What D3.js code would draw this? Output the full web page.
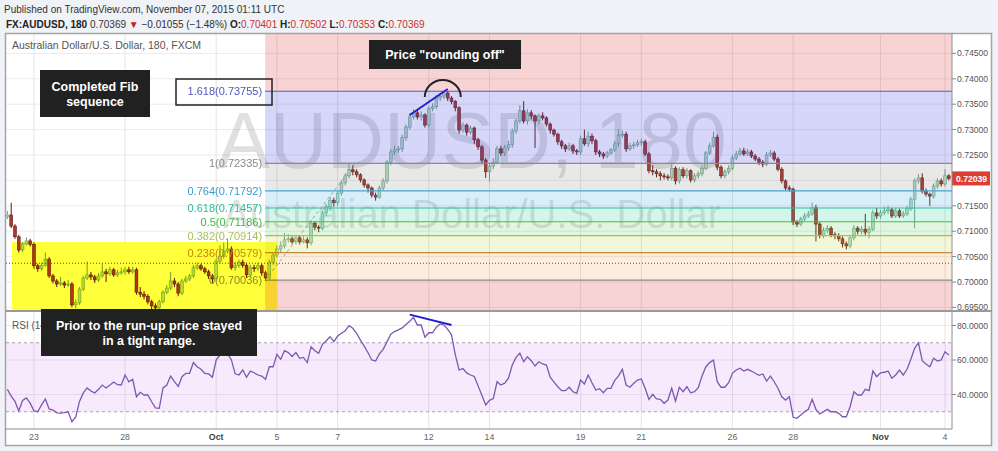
<!DOCTYPE html>
<html><head><meta charset="utf-8">
<script src="https://cdn.jsdelivr.net/npm/d3@7"></script>
<style>
html,body{margin:0;padding:0;background:#eff2f6;}
svg{display:block;font-family:"Liberation Sans",Arial,sans-serif;}
</style></head><body>
<svg id="c" width="998" height="451"></svg>
<script>
// ---------- DATA ----------
const firstOpen = 0.7128;
const closes = [
0.7132,0.7110,0.7089,0.7063,0.7075,0.7081,0.7074,0.7032,0.7026,0.7033,
0.7045,0.7012,0.7002,0.6996,0.6998,0.6994,0.6996,0.6955,0.6959,0.6986,
0.7008,0.7014,0.7010,0.7004,0.7012,0.7020,0.7016,0.7024,0.7014,0.7018,
0.7020,0.7024,0.7020,0.7024,0.6980,0.6976,0.6972,0.6961,0.6953,0.6949,
0.6961,0.6980,0.6988,0.7002,0.6996,0.6978,0.7002,0.7006,0.7012,0.7028,
0.7032,0.7026,0.7020,0.7012,0.7006,0.7041,0.7051,0.7061,0.7065,0.7028,
0.7033,0.7039,0.7033,0.7014,0.7028,0.7027,0.7032,0.7018,0.7008,0.7039,
0.7053,0.7065,0.7071,0.7083,0.7085,0.7079,0.7087,0.7079,0.7083,0.7077,
0.7116,0.7108,0.7106,0.7136,0.7148,0.7161,0.7156,0.7175,0.7195,0.7209,
0.7221,0.7217,0.7211,0.7201,0.7191,0.7185,0.7171,0.7167,0.7185,0.7199,
0.7236,0.7256,0.7260,0.7262,0.7284,0.7305,0.7325,0.7333,0.7325,0.7329,
0.7309,0.7341,0.7345,0.7362,0.7366,0.7372,0.7362,0.7355,0.7343,0.7299,
0.7309,0.7295,0.7303,0.7280,0.7266,0.7240,0.7217,0.7228,0.7236,0.7262,
0.7254,0.7264,0.7270,0.7297,0.7317,0.7337,0.7317,0.7333,0.7327,0.7317,
0.7327,0.7323,0.7311,0.7299,0.7291,0.7276,0.7268,0.7262,0.7268,0.7258,
0.7256,0.7282,0.7272,0.7287,0.7278,0.7256,0.7252,0.7248,0.7254,0.7260,
0.7272,0.7289,0.7291,0.7262,0.7268,0.7270,0.7274,0.7276,0.7252,0.7219,
0.7217,0.7213,0.7209,0.7207,0.7205,0.7224,0.7199,0.7221,0.7209,0.7219,
0.7201,0.7209,0.7213,0.7224,0.7254,0.7268,0.7285,0.7226,0.7209,0.7217,
0.7224,0.7244,0.7252,0.7258,0.7252,0.7256,0.7248,0.7242,0.7236,0.7232,
0.7250,0.7254,0.7242,0.7222,0.7199,0.7185,0.7183,0.7118,0.7114,0.7124,
0.7130,0.7134,0.7146,0.7114,0.7091,0.7102,0.7106,0.7093,0.7091,0.7085,
0.7075,0.7071,0.7087,0.7106,0.7100,0.7104,0.7098,0.7104,0.7136,0.7130,
0.7136,0.7140,0.7142,0.7130,0.7140,0.7130,0.7134,0.7144,0.7163,0.7199,
0.7205,0.7179,0.7173,0.7169,0.7189,0.7199,0.7193,0.7209,0.7204];
const highs = [
0.7140,0.7156,0.7114,0.7093,0.7079,0.7088,0.7085,0.7078,0.7036,0.7038,
0.7058,0.7049,0.7016,0.7006,0.7010,0.7002,0.7004,0.7000,0.6966,0.6990,
0.7012,0.7040,0.7020,0.7014,0.7018,0.7036,0.7026,0.7030,0.7028,0.7024,
0.7028,0.7030,0.7030,0.7030,0.7028,0.6990,0.6982,0.6976,0.6965,0.6958,
0.6965,0.6984,0.6994,0.7020,0.7008,0.7000,0.7006,0.7012,0.7016,0.7034,
0.7038,0.7036,0.7030,0.7024,0.7016,0.7046,0.7072,0.7078,0.7086,0.7070,
0.7040,0.7044,0.7044,0.7038,0.7034,0.7034,0.7038,0.7036,0.7022,0.7044,
0.7058,0.7072,0.7080,0.7096,0.7094,0.7090,0.7092,0.7092,0.7090,0.7088,
0.7122,0.7120,0.7112,0.7140,0.7154,0.7168,0.7166,0.7180,0.7200,0.7214,
0.7234,0.7230,0.7222,0.7214,0.7204,0.7194,0.7188,0.7176,0.7190,0.7204,
0.7240,0.7262,0.7268,0.7268,0.7290,0.7310,0.7332,0.7340,0.7340,0.7336,
0.7332,0.7346,0.7352,0.7368,0.7372,0.7376,0.7376,0.7366,0.7358,0.7346,
0.7314,0.7312,0.7308,0.7306,0.7284,0.7270,0.7244,0.7234,0.7244,0.7268,
0.7268,0.7270,0.7278,0.7302,0.7322,0.7348,0.7356,0.7340,0.7338,0.7330,
0.7332,0.7334,0.7326,0.7314,0.7302,0.7294,0.7280,0.7272,0.7274,0.7272,
0.7262,0.7288,0.7300,0.7296,0.7292,0.7282,0.7260,0.7256,0.7258,0.7264,
0.7278,0.7300,0.7298,0.7296,0.7274,0.7276,0.7280,0.7282,0.7280,0.7256,
0.7230,0.7222,0.7218,0.7214,0.7212,0.7232,0.7228,0.7226,0.7226,0.7224,
0.7222,0.7214,0.7218,0.7230,0.7258,0.7274,0.7296,0.7290,0.7230,0.7222,
0.7230,0.7250,0.7258,0.7264,0.7264,0.7262,0.7260,0.7252,0.7246,0.7240,
0.7256,0.7260,0.7258,0.7246,0.7226,0.7202,0.7190,0.7186,0.7122,0.7128,
0.7136,0.7140,0.7156,0.7152,0.7118,0.7108,0.7112,0.7110,0.7098,0.7096,
0.7090,0.7080,0.7092,0.7112,0.7110,0.7110,0.7134,0.7110,0.7142,0.7146,
0.7142,0.7148,0.7150,0.7146,0.7146,0.7144,0.7140,0.7150,0.7168,0.7204,
0.7212,0.7214,0.7184,0.7176,0.7194,0.7204,0.7204,0.7222,0.7212];
const lows = [
0.7124,0.7106,0.7085,0.7058,0.7059,0.7072,0.7070,0.7026,0.7020,0.7022,
0.7030,0.7008,0.6997,0.6990,0.6992,0.6988,0.6990,0.6950,0.6948,0.6955,
0.6982,0.7004,0.7004,0.6998,0.7000,0.7008,0.7000,0.7012,0.7010,0.7010,
0.7014,0.7014,0.7016,0.7016,0.6975,0.6970,0.6966,0.6956,0.6946,0.6940,
0.6944,0.6958,0.6976,0.6984,0.6990,0.6972,0.6974,0.6998,0.7002,0.7008,
0.7024,0.7022,0.7016,0.7006,0.6998,0.7002,0.7036,0.7046,0.7056,0.7024,
0.7022,0.7028,0.7028,0.7008,0.7010,0.7020,0.7022,0.7012,0.7002,0.7004,
0.7034,0.7048,0.7058,0.7066,0.7078,0.7074,0.7074,0.7074,0.7076,0.7066,
0.7072,0.7102,0.7098,0.7102,0.7130,0.7140,0.7148,0.7150,0.7170,0.7190,
0.7204,0.7210,0.7206,0.7196,0.7186,0.7176,0.7166,0.7160,0.7164,0.7180,
0.7194,0.7230,0.7250,0.7254,0.7256,0.7278,0.7300,0.7320,0.7320,0.7318,
0.7304,0.7304,0.7336,0.7340,0.7356,0.7360,0.7356,0.7350,0.7336,0.7292,
0.7294,0.7288,0.7290,0.7272,0.7260,0.7234,0.7205,0.7198,0.7222,0.7232,
0.7248,0.7248,0.7258,0.7264,0.7292,0.7312,0.7312,0.7310,0.7320,0.7264,
0.7310,0.7318,0.7306,0.7292,0.7286,0.7270,0.7262,0.7256,0.7258,0.7252,
0.7250,0.7250,0.7268,0.7266,0.7272,0.7250,0.7246,0.7242,0.7244,0.7250,
0.7256,0.7266,0.7284,0.7256,0.7258,0.7262,0.7266,0.7268,0.7248,0.7214,
0.7210,0.7206,0.7200,0.7202,0.7200,0.7200,0.7192,0.7194,0.7204,0.7204,
0.7196,0.7196,0.7204,0.7208,0.7220,0.7250,0.7264,0.7220,0.7204,0.7204,
0.7212,0.7220,0.7240,0.7248,0.7248,0.7248,0.7244,0.7238,0.7230,0.7226,
0.7228,0.7246,0.7238,0.7218,0.7194,0.7180,0.7178,0.7112,0.7108,0.7110,
0.7120,0.7126,0.7130,0.7080,0.7086,0.7086,0.7096,0.7088,0.7084,0.7080,
0.7068,0.7064,0.7066,0.7082,0.7094,0.7094,0.7092,0.7086,0.7100,0.7124,
0.7124,0.7132,0.7134,0.7126,0.7126,0.7126,0.7126,0.7130,0.7140,0.7106,
0.7194,0.7174,0.7168,0.7150,0.7164,0.7184,0.7188,0.7188,0.7200];
const rsi = [
43,39,36,30.5,36.5,38,35,30.5,30,34,
37.4,31.6,31,29.4,29.2,29.5,30,24.2,27,36,
40.9,43.8,42,40.9,43,45.5,43.8,45.5,47.2,45.7,
45.5,51.3,47.4,48.8,38.7,41.3,39.7,39.7,35.8,32.2,
32,43.8,45.5,50.7,47.4,44.7,50.3,52.3,52.3,58.5,
56.1,54.6,52.3,51.9,50,60,62.9,65.8,63.5,60.2,
52,51.3,54.2,50,53.6,52.6,51.3,50.7,48.8,56.1,
56.1,63.3,60.4,65.4,64.3,62,64.3,61,61.5,58.5,
67.7,65.4,63.9,69.1,71.2,73.5,70.6,73.9,75.5,77,
79.9,78.4,75.5,71.5,68,64.2,60,59.4,63.5,66.2,
70.5,75,76.5,77.5,78.6,80.6,82.5,84.7,80.3,80.3,
73.2,75.8,75.8,79,80.9,80.3,77.8,74.5,63,54.2,
55,52.5,51.3,50.5,45,39.5,33.9,36.6,37.6,47.4,
45.5,46.6,49.5,57.1,61.5,64,59,61.9,59.6,56.5,
59,57.7,57.1,50,47.2,44.5,42.2,42.2,44.2,41.6,
40.7,48.4,46.1,51.3,46.8,42.6,43.4,41,43.6,43.6,
48.2,50.8,54.6,45.5,44.2,46.5,48.4,49,43.6,37.2,
40.1,37.4,37.2,34.9,36.8,43.6,36.2,44.2,41.6,44.5,
41,41.6,44,50.7,56.1,58.5,60,47.4,44.2,44.2,
46.8,52.3,54.2,55.2,53.6,54.6,53.6,52.3,51.1,51.9,
47.8,50.7,47.4,43.6,38.7,36.8,38.7,26.8,26.2,28.1,
30,31.4,37.2,31.4,28.7,30,31.4,30,30,29.1,
27.1,27.1,32.9,41.6,39.7,39.7,43,42.2,53.6,50.3,
52.6,52.9,53.6,49.4,51.3,54.2,51.3,54.6,60.4,66.8,
70,59.6,57.7,56.1,61,59.4,60,64.8,62.9];
const tickBars   = [8,32,56,72,88,112,128,152,168,192,208,231,248];
const tickLabels = ["23","28","Oct","5","7","12","14","19","21","26","28","Nov","4"];
const boldTicks  = ["Oct","Nov"];
const priceTicks = [0.695,0.700,0.705,0.710,0.715,0.720,0.725,0.730,0.735,0.740,0.745];
const rsiTicks   = [40,60,80];
const rsiBand    = [30,70];
const fibLevels  = [1.618,1,0.764,0.618,0.5,0.382,0.236,0];
const fibPrices  = [0.73755,0.72335,0.71792,0.71457,0.71186,0.70914,0.70579,0.70036];
const fibAnchorBars = [68.9,92.65];
const lastPrice = 0.72039;
const refPrice  = 0.70369;
const highlightBars = [2.2,72];
const highlightTop = 0.70787;
const priceTrend = {bars:[107,117], prices:[0.73287,0.73799]};
const rsiTrend   = {bars:[107,118], values:[86.3,80.3]};
const arcCenter  = {bar:115.7, price:0.73642};

// ---------- STYLE / LAYOUT ----------
const plotL=6, plotR=952, priceTop=34, priceBot=310, rsiTop=312, rsiBot=429;
const fibLine = ["#5a56c8","#8a8a8a","#45a6d6","#2fc0a0","#42bf42","#a2c248","#c4883a","#8a8a8a"];
const fibText = ["#5555c0","#8a8a8a","#3b9cd0","#2db896","#3cba3c","#a8c255","#c8862a","#8a8a8a"];
const fibFill = ["rgba(70,70,225,0.22)","rgba(120,120,120,0.17)","rgba(60,170,225,0.2)","rgba(40,205,150,0.2)","rgba(80,200,60,0.17)","rgba(175,205,40,0.17)","rgba(240,150,60,0.17)"];
const pinkFill = "rgba(225,70,70,0.24)";
const upBody="#b6dcc5", upLine="#6f9f83", dnBody="#b3362c", dnLine="#5b1a13";

const svg = d3.select("#c");
const defs = svg.append("defs");
defs.append("clipPath").attr("id","cp").append("rect").attr("x",plotL).attr("y",priceTop).attr("width",plotR-plotL).attr("height",priceBot-priceTop);
defs.append("clipPath").attr("id","cr").append("rect").attr("x",plotL).attr("y",rsiTop).attr("width",plotR-plotL).attr("height",rsiBot-rsiTop);
defs.append("clipPath").attr("id","ca").append("rect").attr("x",plotR).attr("y",priceTop).attr("width",45).attr("height",priceBot-priceTop);

const x = d3.scaleLinear().domain([0,250]).range([3.6,952.6]);
const y = d3.scaleLinear().domain([0.695,0.745]).range([307.4,53.4]);
const yr = d3.scaleLinear().domain([40,80]).range([394.5,325.5]);

// header
svg.append("text").attr("x",4).attr("y",13).attr("font-size",10).attr("fill","#333")
  .text("Published on TradingView.com, November 07, 2015 01:11 UTC");
const h2 = svg.append("text").attr("x",6).attr("y",28).attr("font-size",10).attr("fill","#333");
const parts = [["FX:AUDUSD, 180 ","b","#222"],["0.70369 ","n","#333"],["\u25BC","n","#cc1f1f"],[" \u22120.01055 (\u22121.48%) ","n","#333"],
 ["O:","b","#222"],["0.70401 ","n","#c9302c"],["H:","b","#222"],["0.70502 ","n","#c9302c"],["L:","b","#222"],["0.70353 ","n","#c9302c"],["C:","b","#222"],["0.70369","n","#c9302c"]];
parts.forEach(p=>h2.append("tspan").attr("font-weight",p[1]==="b"?"bold":"normal").attr("fill",p[2]).text(p[0]));

// frame
svg.append("rect").attr("x",5).attr("y",33).attr("width",987).attr("height",413).attr("fill","#fff");

// grids
const grid = svg.append("g");
grid.selectAll("line.ph").data(priceTicks).join("line").attr("x1",plotL).attr("x2",plotR)
  .attr("y1",d=>y(d)).attr("y2",d=>y(d)).attr("stroke","#ebebeb").attr("clip-path","url(#cp)");
grid.selectAll("line.rh").data(rsiTicks).join("line").attr("x1",plotL).attr("x2",plotR)
  .attr("y1",d=>yr(d)).attr("y2",d=>yr(d)).attr("stroke","#ebebeb");
grid.selectAll("line.v").data(tickBars).join("line").attr("x1",d=>x(d)).attr("x2",d=>x(d))
  .attr("y1",priceTop).attr("y2",rsiBot).attr("stroke","#e4e4e4");

// price pane
const pp = svg.append("g").attr("clip-path","url(#cp)");
const cx = (plotL+plotR)/2 - 7;
pp.append("text").attr("x",cx).attr("y",168).attr("text-anchor","middle").attr("font-size",79)
  .attr("fill","rgba(60,60,70,0.16)").text("AUDUSD, 180");
pp.append("text").attr("x",cx).attr("y",228).attr("text-anchor","middle").attr("font-size",40)
  .attr("fill","rgba(60,60,70,0.16)").text("Australian Dollar/U.S. Dollar");

const candles = closes.map((c,i)=>({bar:i+1, o: i===0?firstOpen:closes[i-1], c, h:highs[i], l:lows[i]}));
const cg = pp.append("g");
cg.selectAll("line").data(candles).join("line")
  .attr("x1",d=>x(d.bar)).attr("x2",d=>x(d.bar)).attr("y1",d=>y(d.h)).attr("y2",d=>y(d.l))
  .attr("stroke",d=>d.c>=d.o?upLine:dnLine).attr("stroke-width",1);
cg.selectAll("rect").data(candles).join("rect")
  .attr("x",d=>x(d.bar)-1.4).attr("width",2.8)
  .attr("y",d=>y(Math.max(d.o,d.c))).attr("height",d=>Math.max(1,Math.abs(y(d.o)-y(d.c))))
  .attr("fill",d=>d.c>=d.o?upBody:dnBody).attr("stroke",d=>d.c>=d.o?upLine:dnLine).attr("stroke-width",0.6);

// fib
const fx0 = x(fibAnchorBars[0]);
const fg = pp.append("g");
fg.append("rect").attr("x",fx0).attr("width",plotR-fx0).attr("y",priceTop).attr("height",y(fibPrices[0])-priceTop).attr("fill",pinkFill);
fg.append("rect").attr("x",fx0).attr("width",plotR-fx0).attr("y",y(fibPrices[7])).attr("height",priceBot-y(fibPrices[7])).attr("fill",pinkFill);
fg.selectAll("rect.band").data(fibFill).join("rect").attr("class","band")
  .attr("x",fx0).attr("width",plotR-fx0).attr("y",(d,i)=>y(fibPrices[i])).attr("height",(d,i)=>y(fibPrices[i+1])-y(fibPrices[i])).attr("fill",d=>d);
fg.selectAll("line.fl").data(fibPrices).join("line").attr("class","fl")
  .attr("x1",fx0).attr("x2",plotR).attr("y1",d=>y(d)).attr("y2",d=>y(d)).attr("stroke",(d,i)=>fibLine[i]).attr("stroke-width",1.2);
fg.selectAll("text.ft").data(fibPrices).join("text").attr("class","ft")
  .attr("x",fx0-3).attr("y",d=>y(d)+4).attr("text-anchor","end").attr("font-size",11).attr("fill",(d,i)=>fibText[i])
  .text((d,i)=>`${fibLevels[i]}(${d.toFixed(5)})`);
fg.append("line").attr("x1",x(fibAnchorBars[0])).attr("y1",y(fibPrices[7])).attr("x2",x(fibAnchorBars[1])).attr("y2",y(fibPrices[1]))
  .attr("stroke","#999").attr("stroke-dasharray","3,3");

// reference price dotted line
pp.append("line").attr("x1",plotL).attr("x2",plotR).attr("y1",y(refPrice)).attr("y2",y(refPrice))
  .attr("stroke","#8f3a3a").attr("stroke-dasharray","1,2");

// yellow highlight
pp.append("rect").attr("x",x(highlightBars[0])).attr("width",x(highlightBars[1])-x(highlightBars[0]))
  .attr("y",y(highlightTop)).attr("height",priceBot-y(highlightTop)+2).attr("fill","#ffff3a").style("mix-blend-mode","multiply");

// drawings
pp.append("line").attr("x1",x(priceTrend.bars[0])).attr("y1",y(priceTrend.prices[0])).attr("x2",x(priceTrend.bars[1])).attr("y2",y(priceTrend.prices[1]))
  .attr("stroke","#1f1fcf").attr("stroke-width",2);
const acx = x(arcCenter.bar), acy = y(arcCenter.price), ar = 18;
pp.append("path").attr("d",`M${acx-ar},${acy} A${ar},${ar-1} 0 0 1 ${acx+ar},${acy}`).attr("fill","none").attr("stroke","#222").attr("stroke-width",2);

// 1.618 label box
svg.append("rect").attr("x",176).attr("y",79).attr("width",96).attr("height",26).attr("fill","none").attr("stroke","#222").attr("stroke-width",1.5);

// title
svg.append("text").attr("x",12).attr("y",49).attr("font-size",10.5).attr("fill","#555").text("Australian Dollar/U.S. Dollar, 180, FXCM");

// RSI pane
const rp = svg.append("g").attr("clip-path","url(#cr)");
rp.append("rect").attr("x",plotL).attr("width",plotR-plotL).attr("y",yr(rsiBand[1])).attr("height",yr(rsiBand[0])-yr(rsiBand[1])).attr("fill","rgba(190,90,235,0.13)");
rp.selectAll("line.band").data(rsiBand).join("line").attr("x1",plotL).attr("x2",plotR).attr("y1",d=>yr(d)).attr("y2",d=>yr(d))
  .attr("stroke","#a9a0b0").attr("stroke-dasharray","3,3");
rp.append("path").datum(rsi).attr("fill","none").attr("stroke","#7f57b0").attr("stroke-width",1.3)
  .attr("d",d3.line().x((d,i)=>x(i+1)).y(d=>yr(d)));
rp.append("line").attr("x1",x(rsiTrend.bars[0])).attr("y1",yr(rsiTrend.values[0])).attr("x2",x(rsiTrend.bars[1])).attr("y2",yr(rsiTrend.values[1]))
  .attr("stroke","#1f1fcf").attr("stroke-width",2);
svg.append("text").attr("x",12).attr("y",329).attr("font-size",10).attr("fill","#555").text("RSI (14, close)");

// axes
const ax = svg.append("g").attr("clip-path","url(#ca)");
ax.selectAll("text").data(priceTicks).join("text").attr("x",957).attr("y",d=>y(d)+3).attr("font-size",8.6).attr("fill","#555").text(d=>d.toFixed(5));
ax.selectAll("line").data(priceTicks).join("line").attr("x1",plotR).attr("x2",plotR+4).attr("y1",d=>y(d)).attr("y2",d=>y(d)).attr("stroke","#888");
svg.selectAll("text.rl").data(rsiTicks).join("text").attr("class","rl").attr("x",957).attr("y",d=>yr(d)+3).attr("font-size",8.6).attr("fill","#555").text(d=>d.toFixed(4));
svg.selectAll("line.rt").data(rsiTicks).join("line").attr("class","rt").attr("x1",plotR).attr("x2",plotR+4).attr("y1",d=>yr(d)).attr("y2",d=>yr(d)).attr("stroke","#888");
svg.selectAll("text.xl").data(tickBars).join("text").attr("class","xl").attr("x",d=>x(d)).attr("y",440).attr("text-anchor","middle")
  .attr("font-size",8.8).attr("font-weight",(d,i)=>boldTicks.includes(tickLabels[i])?"bold":"normal").attr("fill",(d,i)=>boldTicks.includes(tickLabels[i])?"#444":"#666").text((d,i)=>tickLabels[i]);

// last price label
svg.append("rect").attr("x",plotR).attr("y",y(lastPrice)-7).attr("width",38).attr("height",14).attr("fill","#dc3d35");
svg.append("text").attr("x",956).attr("y",y(lastPrice)+3.2).attr("font-size",8.6).attr("font-weight","bold").attr("fill","#fff").text(lastPrice.toFixed(5));

// frame lines
svg.append("rect").attr("x",5.5).attr("y",33.5).attr("width",986).attr("height",412).attr("fill","none").attr("stroke","#a5a5a5").attr("stroke-width",1.5);
svg.append("line").attr("x1",plotR).attr("x2",plotR).attr("y1",33).attr("y2",rsiBot).attr("stroke","#8c8c8c");
svg.append("line").attr("x1",5).attr("x2",992).attr("y1",311).attr("y2",311).attr("stroke","#9a9a9a").attr("stroke-width",2);
svg.append("line").attr("x1",5).attr("x2",plotR).attr("y1",rsiBot).attr("y2",rsiBot).attr("stroke","#8c8c8c");

// annotation boxes
function note(x0,y0,w,h,lines,lh){
  const g = svg.append("g");
  g.append("rect").attr("x",x0).attr("y",y0).attr("width",w).attr("height",h).attr("fill","#212121");
  const n = lines.length, cy = y0+h/2;
  lines.forEach((t,k)=>g.append("text").attr("x",x0+w/2).attr("y",cy+(k-(n-1)/2)*lh+4.5).attr("text-anchor","middle")
    .attr("font-size",12.5).attr("font-weight","bold").attr("fill","#fff").text(t));
}
note(40,70,110,47,["Completed Fib","sequence"],15);
note(369,40,152,29,["Price \"rounding off\""],15);
note(41,309,216,47,["Prior to the run-up price stayed","in a tight range."],15);
</script>
</body></html>
